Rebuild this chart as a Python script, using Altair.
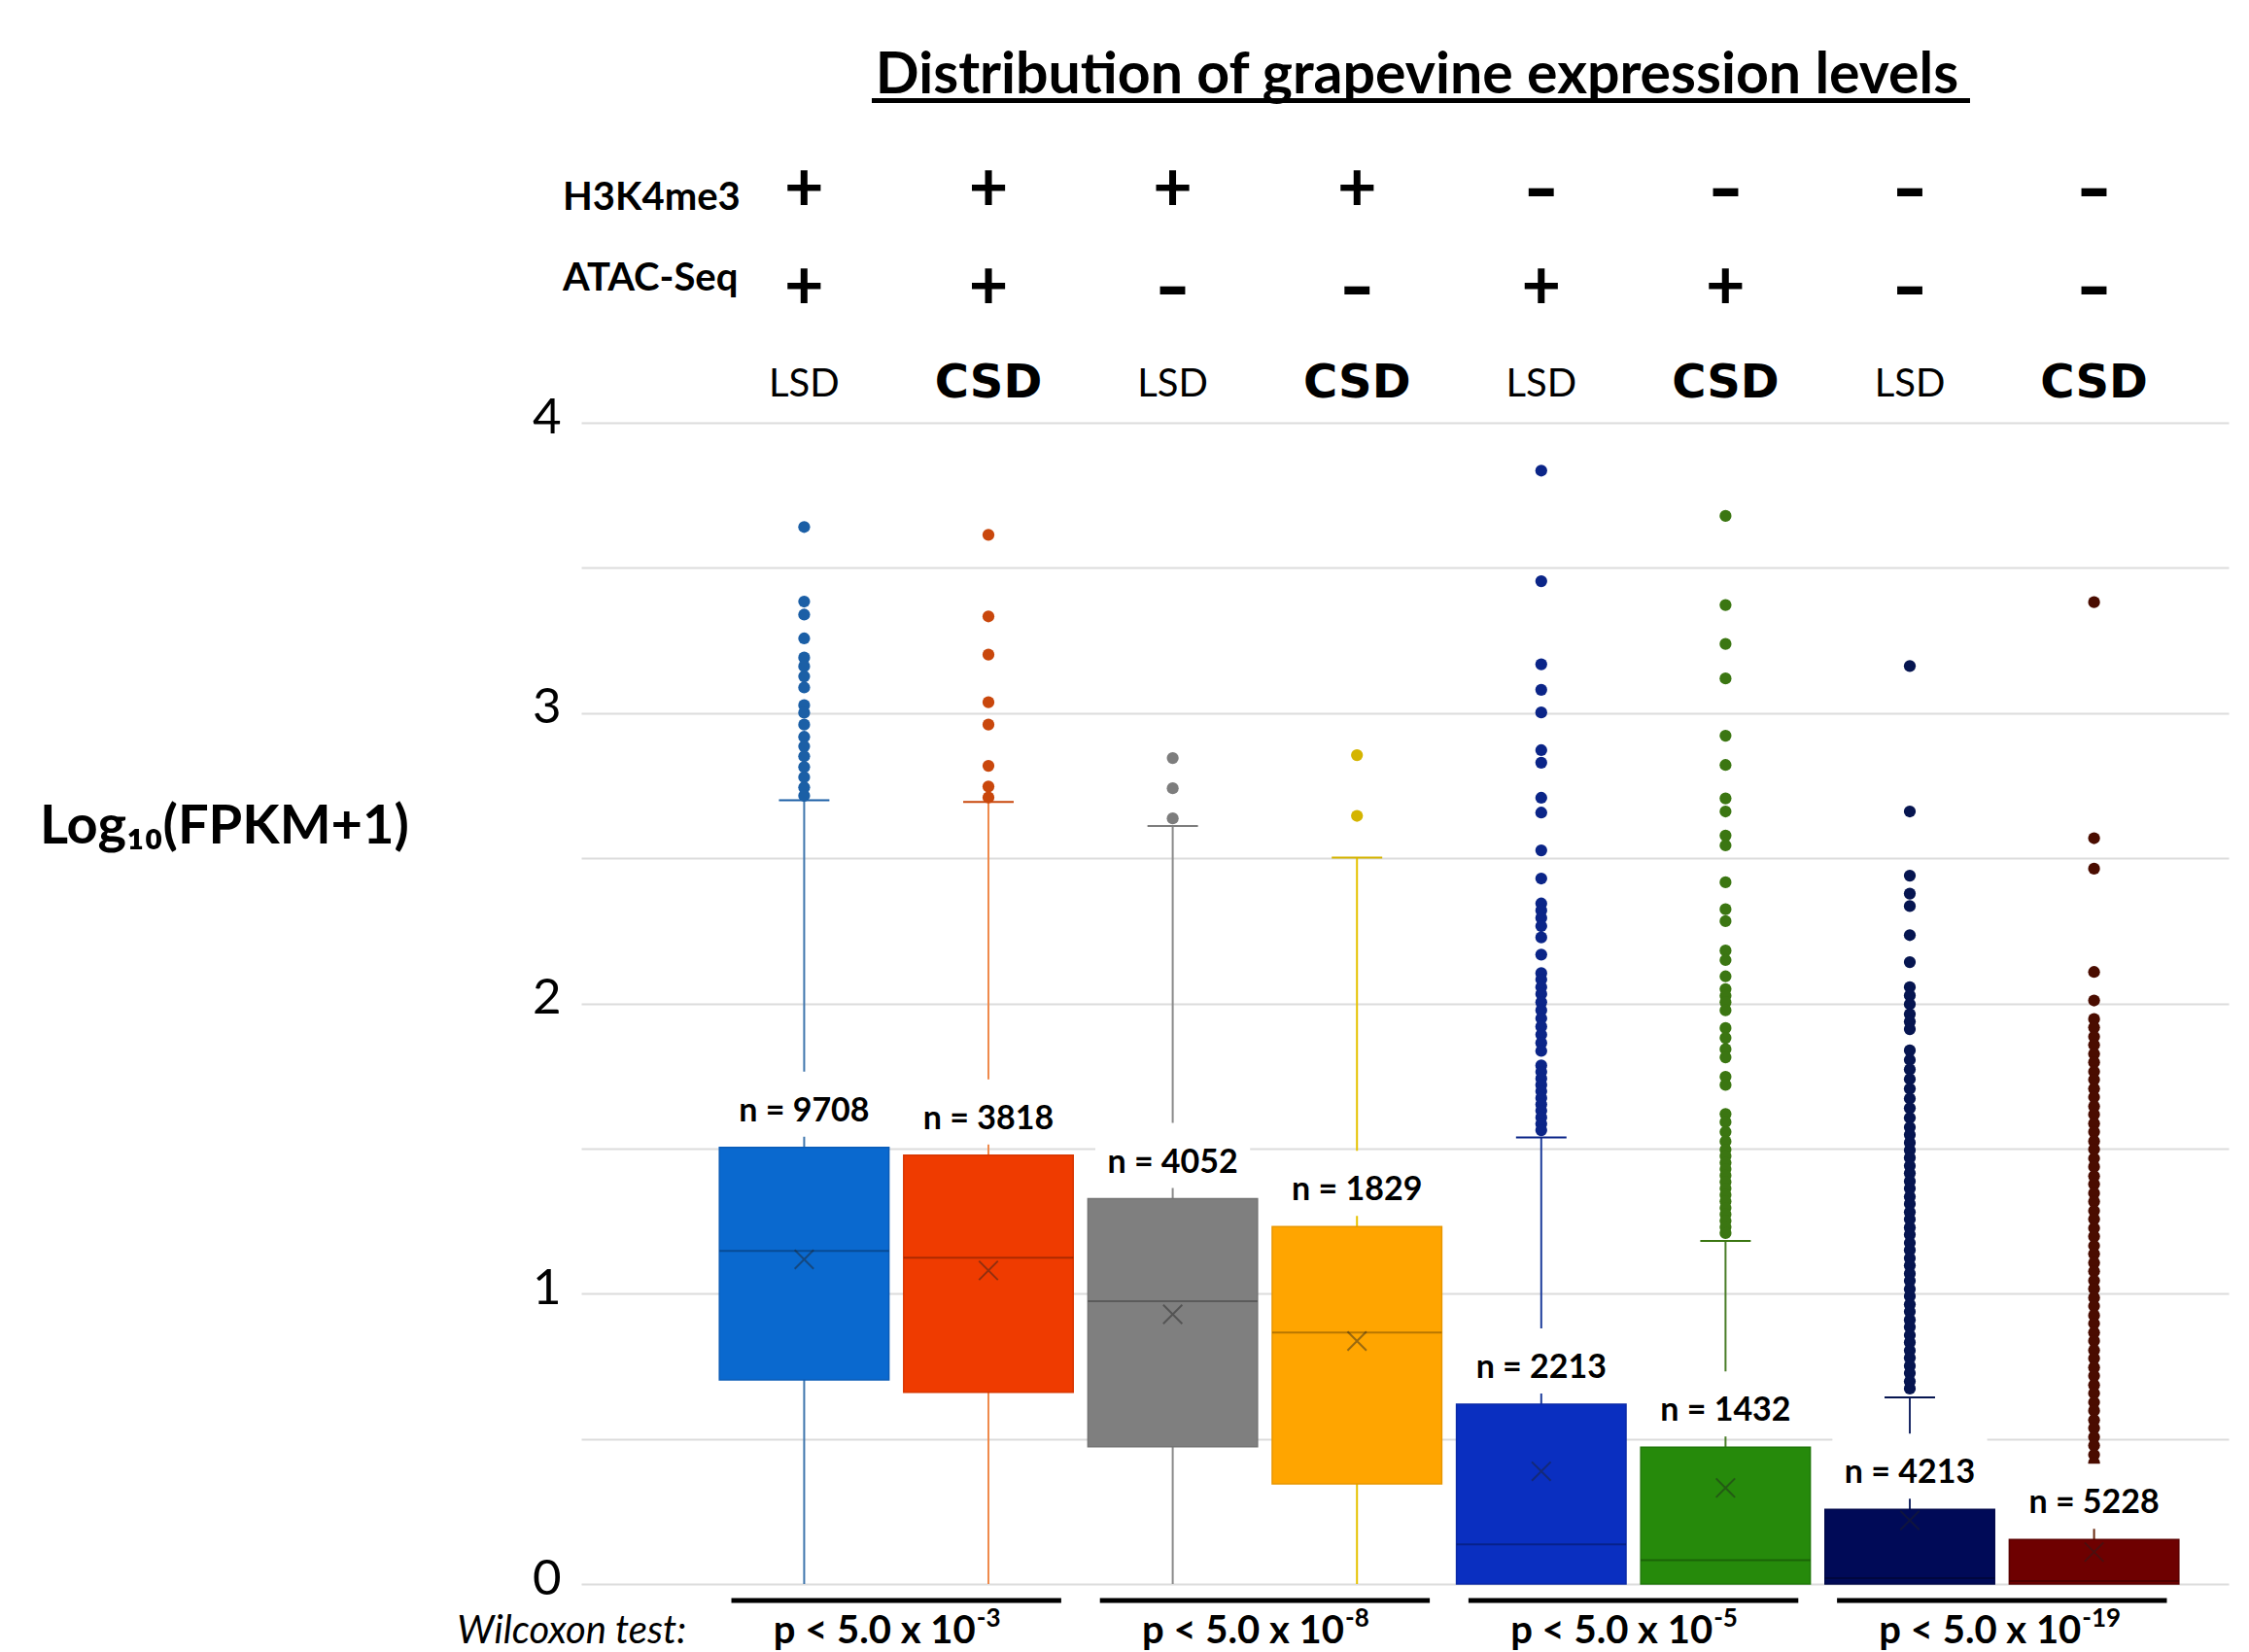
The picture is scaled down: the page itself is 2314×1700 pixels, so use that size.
import altair as alt
import pandas as pd

# ---------------- data ----------------
positions = [0, 1, 2, 3, 4, 5, 6, 7]
tissues = ["LSD", "CSD", "LSD", "CSD", "LSD", "CSD", "LSD", "CSD"]
h3k4me3 = ["+", "+", "+", "+", "–", "–", "–", "–"]
atac_seq = ["+", "+", "–", "–", "+", "+", "–", "–"]
n_genes = [9708, 3818, 4052, 1829, 2213, 1432, 4213, 5228]

q1 = [0.703, 0.660, 0.473, 0.345, 0.0, 0.0, 0.0, 0.0]
medians = [1.147, 1.124, 0.974, 0.866, 0.136, 0.082, 0.02, 0.01]
q3 = [1.504, 1.477, 1.327, 1.231, 0.619, 0.471, 0.257, 0.153]
means = [1.118, 1.080, 0.929, 0.837, 0.388, 0.331, 0.219, 0.11]
whisker_low = [0, 0, 0, 0, 0, 0, 0, 0]
whisker_high = [2.700, 2.694, 2.611, 2.502, 1.538, 1.182, 0.643, 0.385]

out_lsd_pp = [3.641, 3.384, 3.339, 3.257, 3.191, 3.161, 3.126, 3.088, 3.027, 3.001,
              2.960, 2.918, 2.885, 2.851, 2.814, 2.779, 2.744, 2.715]
out_csd_pp = [3.614, 3.333, 3.201, 3.037, 2.960, 2.818, 2.747, 2.709]
out_lsd_pm = [2.845, 2.741, 2.637]
out_csd_pm = [2.855, 2.646]
out_lsd_mp = [3.835, 3.454, 3.168, 3.080, 3.002, 2.872, 2.829, 2.708, 2.657, 2.527,
              2.430, 2.344, 2.320, 2.294, 2.266, 2.227, 2.168, 2.104, 2.082, 2.056,
              2.032, 2.004, 1.976, 1.948, 1.920, 1.892, 1.864, 1.836, 1.786, 1.764,
              1.741, 1.719, 1.697, 1.674, 1.652, 1.630, 1.607, 1.585, 1.563]
out_csd_mp = [3.679, 3.372, 3.238, 3.119, 2.922, 2.821, 2.706, 2.661, 2.578, 2.544,
              2.417, 2.324, 2.283, 2.182, 2.149, 2.093, 2.049, 2.026, 2.004, 1.976,
              1.915, 1.881, 1.842, 1.814, 1.747, 1.719, 1.619, 1.591, 1.557, 1.524,
              1.496, 1.474, 1.451, 1.429, 1.407, 1.385, 1.362, 1.340, 1.318, 1.295,
              1.273, 1.251, 1.229, 1.209]
out_lsd_mm = [3.162, 2.661, 2.440, 2.378, 2.335, 2.235, 2.142, 2.056, 2.027, 1.997,
              1.963, 1.937, 1.911, 1.838, 1.805, 1.772, 1.739, 1.706, 1.672, 1.639,
              1.606, 1.573, 1.547, 1.520, 1.494, 1.468, 1.440, 1.415, 1.387, 1.362,
              1.334, 1.309, 1.281, 1.256, 1.228, 1.203, 1.175, 1.150, 1.122, 1.097,
              1.069, 1.044, 1.016, 0.991, 0.963, 0.938, 0.910, 0.885, 0.857, 0.832,
              0.804, 0.779, 0.751, 0.726, 0.698, 0.673]
out_csd_mm = [3.382, 2.569, 2.464, 2.108, 2.010, 1.946, 1.917, 1.885, 1.857, 1.826,
              1.797, 1.765, 1.737, 1.706, 1.677, 1.645, 1.617, 1.586, 1.557, 1.525,
              1.497, 1.466, 1.437, 1.405, 1.377, 1.346, 1.317, 1.285, 1.257, 1.226,
              1.197, 1.165, 1.137, 1.106, 1.077, 1.045, 1.017, 0.986, 0.957, 0.925,
              0.897, 0.866, 0.837, 0.805, 0.777, 0.746, 0.717, 0.685, 0.657, 0.626,
              0.597, 0.565, 0.537, 0.506, 0.477, 0.445, 0.417]
outlier_lists = [out_lsd_pp, out_csd_pp, out_lsd_pm, out_csd_pm,
                 out_lsd_mp, out_csd_mp, out_lsd_mm, out_csd_mm]

pair_centers = [0.5, 2.5, 4.5, 6.5]
p_base = ["p < 5.0 x 10", "p < 5.0 x 10", "p < 5.0 x 10", "p < 5.0 x 10"]
p_exponents = ["-3", "-8", "-5", "-19"]

# ---------------- styles ----------------
box_colors = ["#0a69cf", "#ef3b00", "#7f7f7f", "#ffa500", "#0a2fc0", "#268a0b", "#000a57", "#6e0000"]
edge_colors = ["#0a5cb8", "#d83600", "#737373", "#e89600", "#0a2aa8", "#20780a", "#00084a", "#5a0000"]
whisker_colors = ["#3f76ad", "#ef8a4c", "#8a8a8a", "#e6c200", "#1d3c9c", "#4a7d28", "#1b2a66", "#6a2a10"]
outlier_colors = ["#1b5fa6", "#c9470c", "#7d7d7d", "#d4b400", "#0b2588", "#3b7612", "#061550", "#4a0c00"]

BOX_HALF = 0.46
CAP_HALF = 0.137
LBL_HALF = 0.42
FONT = "Lato"

boxes = pd.DataFrame({
    "pos": positions, "tissue": tissues, "h3": h3k4me3, "atac": atac_seq,
    "n": n_genes, "q1": q1, "median": medians, "q3": q3, "mean": means,
    "wlo": whisker_low, "whi": whisker_high,
    "fill": box_colors, "edge": edge_colors, "wcol": whisker_colors, "ocol": outlier_colors,
})
boxes["x_lo"] = boxes["pos"] - BOX_HALF
boxes["x_hi"] = boxes["pos"] + BOX_HALF
boxes["c_lo"] = boxes["pos"] - CAP_HALF
boxes["c_hi"] = boxes["pos"] + CAP_HALF
boxes["l_lo"] = boxes["pos"] - LBL_HALF
boxes["l_hi"] = boxes["pos"] + LBL_HALF
boxes["nlabel"] = ["n = " + str(v) for v in n_genes]

rows = []
for p, vals, c in zip(positions, outlier_lists, outlier_colors):
    for v in vals:
        rows.append({"pos": p, "value": v, "ocol": c})
outliers = pd.DataFrame(rows)

pairs = pd.DataFrame({"center": pair_centers, "base": p_base, "exp": p_exponents})
pairs["lo"] = pairs["center"] - 0.895
pairs["hi"] = pairs["center"] + 0.895
pairs["anchor"] = pairs["center"] + 0.43
pairs["y_line"] = -0.057
pairs["y_text"] = -0.205

xs = alt.Scale(domain=[-1.21, 7.73], nice=False, zero=False)
ys = alt.Scale(domain=[0, 4], nice=False, zero=False)

yaxis = alt.Axis(
    values=[0, 0.5, 1, 1.5, 2, 2.5, 3, 3.5, 4],
    labelExpr="datum.value % 1 == 0 ? format(datum.value, 'd') : ''",
    title=None, ticks=False, domain=False,
    grid=True, gridColor="#dcdcdc", gridWidth=2,
    labelFont=FONT, labelFontSize=51, labelColor="#000000", labelPadding=21,
    labelOffset=-5,
)


def X(f):
    return alt.X(f, type="quantitative", scale=xs, axis=None)


def Y(f):
    return alt.Y(f, type="quantitative", scale=ys, axis=yaxis)


base = alt.Chart(boxes)

whisk_low = base.mark_rule(strokeWidth=2).encode(
    x=X("pos"), y=Y("wlo"), y2="q1", color=alt.Color("wcol:N", scale=None),
)
whisk_high = base.mark_rule(strokeWidth=2).encode(
    x=X("pos"), y=Y("q3"), y2="whi", color=alt.Color("wcol:N", scale=None),
)
caps = base.mark_rule(strokeWidth=2).encode(
    x=X("c_lo"), x2="c_hi", y=Y("whi"), color=alt.Color("ocol:N", scale=None),
)
outlier_pts = alt.Chart(outliers).mark_circle(size=150, opacity=1).encode(
    x=X("pos"), y=Y("value"), color=alt.Color("ocol:N", scale=None),
)
label_bg = base.mark_rect(color="white", yOffset=-11, y2Offset=-78).encode(
    x=X("l_lo"), x2="l_hi", y=Y("q3"), y2="q3",
)
box_rects = base.mark_rect(strokeWidth=1.5).encode(
    x=X("x_lo"), x2="x_hi", y=Y("q1"), y2="q3",
    fill=alt.Fill("fill:N", scale=None),
    stroke=alt.Stroke("edge:N", scale=None),
)
median_rules = base.mark_rule(color="#000000", opacity=0.28, strokeWidth=2).encode(
    x=X("x_lo"), x2="x_hi", y=Y("median"),
)
mean_marks = base.mark_point(
    shape="M-1,-1L1,1M-1,1L1,-1", filled=False, size=380, strokeWidth=2,
    color="#222222", opacity=0.45,
).encode(x=X("pos"), y=Y("mean"))
n_labels = base.mark_text(
    font=FONT, fontSize=34, fontWeight="bold", baseline="alphabetic", dy=-27, color="#000000",
).encode(x=X("pos"), y=Y("q3"), text="nlabel:N")

# ---------- top annotation rows ----------
h3_plus = base.transform_calculate(y_h3="4.80").mark_text(
    font=FONT, fontSize=70, fontWeight="bold", baseline="middle", color="#000000"
).transform_filter("datum.h3 == '+'").encode(x=X("pos"), y=Y("y_h3"), text="h3:N")
h3_minus = base.transform_calculate(y_h3="4.80").mark_text(
    font="DejaVu Sans", fontSize=66, fontWeight="bold", baseline="middle", color="#000000"
).transform_filter("datum.h3 != '+'").encode(x=X("pos"), y=Y("y_h3"), text="h3:N")
atac_plus = base.transform_calculate(y_at="4.461").mark_text(
    font=FONT, fontSize=70, fontWeight="bold", baseline="middle", color="#000000"
).transform_filter("datum.atac == '+'").encode(x=X("pos"), y=Y("y_at"), text="atac:N")
atac_minus = base.transform_calculate(y_at="4.461").mark_text(
    font="DejaVu Sans", fontSize=66, fontWeight="bold", baseline="middle", color="#000000"
).transform_filter("datum.atac != '+'").encode(x=X("pos"), y=Y("y_at"), text="atac:N")
lsd_text = base.transform_calculate(y_t="4.092").mark_text(
    font=FONT, fontSize=40, baseline="alphabetic", color="#000000"
).transform_filter("datum.tissue == 'LSD'").encode(x=X("pos"), y=Y("y_t"), text="tissue:N")
csd_text = base.transform_calculate(y_t="4.086").mark_text(
    font="DejaVu Sans", fontSize=48, fontWeight="bold", baseline="alphabetic", color="#000000"
).transform_filter("datum.tissue == 'CSD'").encode(x=X("pos"), y=Y("y_t"), text="tissue:N")

layout = pd.DataFrame({
    "label": ["H3K4me3", "ATAC-Seq"],
    "x": [-1.31, -1.31],
    "y": [4.732, 4.454],
})
row_names = alt.Chart(layout).mark_text(
    font=FONT, fontSize=40, fontWeight="bold", align="left", baseline="alphabetic", color="#000000"
).encode(x=X("x"), y=Y("y"), text="label:N")

title_df = pd.DataFrame({
    "text": ["Distribution of grapevine expression levels"],
    "x": [3.326], "y": [5.134], "ux0": [0.367], "ux1": [6.327], "uy": [5.11],
})
title_text = alt.Chart(title_df).mark_text(
    font=FONT, fontSize=59, fontWeight="bold", baseline="alphabetic", color="#000000"
).encode(x=X("x"), y=Y("y"), text="text:N")
title_line = alt.Chart(title_df).mark_rule(color="#000000", strokeWidth=5).encode(
    x=X("ux0"), x2="ux1", y=Y("uy"),
)

ytitle_df = pd.DataFrame({"text": ["Log₁₀(FPKM+1)"], "x": [-3.146], "y": [2.552]})
ytitle = alt.Chart(ytitle_df).mark_text(
    font=FONT, fontSize=56, fontWeight="bold", baseline="alphabetic", color="#000000"
).encode(x=X("x"), y=Y("y"), text="text:N")

# ---------- bottom: Wilcoxon ----------
pair_lines = alt.Chart(pairs).mark_rule(color="#000000", strokeWidth=5).encode(
    x=X("lo"), x2="hi", y=Y("y_line"),
)
p_text = alt.Chart(pairs).mark_text(
    font=FONT, fontSize=40, fontWeight="bold", align="right", baseline="alphabetic", color="#000000"
).encode(x=X("anchor"), y=Y("y_text"), text="base:N")
p_exp = alt.Chart(pairs).mark_text(
    font=FONT, fontSize=26, fontWeight="bold", align="left", baseline="alphabetic",
    dx=1, dy=-17, color="#000000"
).encode(x=X("anchor"), y=Y("y_text"), text="exp:N")
wil_df = pd.DataFrame({"text": ["Wilcoxon test:"], "x": [-0.64], "y": [-0.205]})
wil_text = alt.Chart(wil_df).mark_text(
    font=FONT, fontSize=40, fontStyle="italic", align="right", baseline="alphabetic", color="#000000"
).encode(x=X("x"), y=Y("y"), text="text:N")

chart = alt.layer(
    whisk_low, whisk_high, caps, outlier_pts, label_bg, box_rects, median_rules,
    mean_marks, n_labels,
    h3_plus, h3_minus, atac_plus, atac_minus, lsd_text, csd_text, row_names,
    title_text, title_line, ytitle,
    pair_lines, p_text, p_exp, wil_text,
).properties(
    width=1695, height=1195,
    autosize=alt.AutoSizeParams(type="none"),
    padding={"left": 590, "top": 427, "right": 3, "bottom": 70},
    background="white",
).configure_view(stroke=None)

chart.save("out.html", embed_options={"renderer": "svg", "actions": False})
